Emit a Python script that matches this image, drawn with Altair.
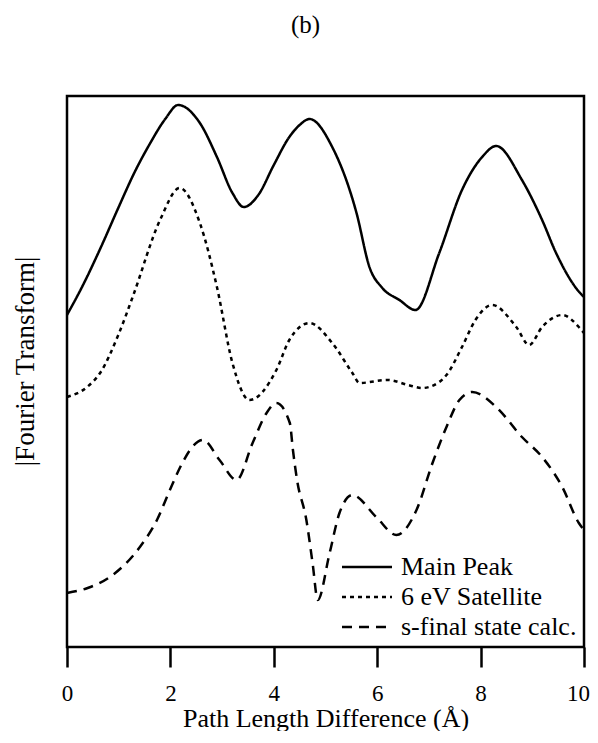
import altair as alt
import pandas as pd

series_names = ["Main Peak", "6 eV Satellite", "s-final state calc."]

main_x = [0.0, 0.31, 0.64, 1.0, 1.3, 1.6, 1.9, 2.15, 2.57, 2.9, 3.2, 3.42, 3.7, 4.0, 4.3, 4.5, 4.69,
          5.13, 5.6, 5.85, 6.1, 6.43, 6.74, 7.2, 7.64, 8.03, 8.3, 8.8, 9.19, 9.46, 9.96, 10.0]
main_y = [332, 362, 398, 440, 474, 503, 528, 542, 524, 490, 454, 440, 452, 482, 510, 522, 528,
          500, 434, 380, 359, 347, 337, 394, 457, 490, 501, 467, 427, 394, 352, 350]

sat_x = [0.0, 0.39, 0.64, 1.0, 1.27, 1.8, 2.18, 2.57, 2.9, 3.2, 3.53, 4.05, 4.3, 4.69, 5.13, 5.52,
         5.66, 6.2, 6.6, 6.87, 7.2, 7.34, 7.64, 7.9, 8.22, 8.69, 8.94, 9.19, 9.58, 9.9, 10.0]
sat_y = [250, 260, 274, 313, 350, 427, 459, 424, 360, 284, 247, 277, 307, 324, 304, 274,
         264, 267, 262, 259, 265, 272, 300, 327, 342, 320, 302, 320, 332, 320, 314]

calc_x = [0.0, 0.4, 0.83, 1.41, 1.74, 1.99, 2.24, 2.44, 2.63, 2.95, 3.28, 3.59, 3.86, 4.05,
          4.31, 4.37, 4.45, 4.63, 4.75, 4.85, 5.08, 5.27, 5.52, 5.98, 6.37, 6.76, 7.07, 7.34,
          7.59, 7.84, 8.3, 8.8, 9.19, 9.58, 9.9, 10.0]
calc_y = [54, 59, 70, 100, 127, 157, 185, 201, 207, 187, 167, 204, 234, 244,
          224, 197, 167, 127, 84, 47, 94, 134, 152, 130, 112, 137, 184, 220,
          247, 255, 240, 210, 190, 160, 124, 117]

rows = []
for name, xs, ys in zip(series_names, [main_x, sat_x, calc_x], [main_y, sat_y, calc_y]):
    for i, (xv, yv) in enumerate(zip(xs, ys)):
        rows.append({"series": name, "x": xv, "y": yv, "order": i})
df = pd.DataFrame(rows)

FONT = "Liberation Serif, 'Times New Roman', Times, serif"

chart = alt.Chart(df).mark_line(
    interpolate="monotone", strokeWidth=2.5, color="black"
).encode(
    x=alt.X("x:Q",
            scale=alt.Scale(domain=[0, 10], nice=False, zero=False),
            axis=alt.Axis(values=[0, 2, 4, 6, 8, 10], title="Path Length Difference (Å)",
                          grid=False, domain=False, ticks=True, tickSize=20, tickWidth=2.5,
                          tickColor="black", labelFont=FONT, labelFontSize=23, labelColor="black",
                          labelBaseline="alphabetic", labelPadding=33, labelFlush=False,
                          labelOffset=alt.ExprRef("datum.value == 10 ? -6 : 0"),
                          titleFont=FONT, titleFontSize=26, titleFontWeight="normal",
                          titleColor="black", titleBaseline="alphabetic", titleY=79)),
    y=alt.Y("y:Q",
            scale=alt.Scale(domain=[0, 551], nice=False, zero=False),
            axis=alt.Axis(title="|Fourier Transform|", labels=False, ticks=False, domain=False,
                          grid=False, titleFont=FONT, titleFontSize=27, titleFontWeight="normal",
                          titleColor="black", titleBaseline="alphabetic", titleX=-34, titleY=265,
                          titleAngle=270)),
    strokeDash=alt.StrokeDash("series:N",
                              scale=alt.Scale(domain=series_names, range=[[1, 0], [4, 4], [10, 7]]),
                              sort=series_names,
                              legend=alt.Legend(title=None, orient="none", legendX=287, legendY=458,
                                                symbolType="M-2.5,0H2.5", symbolSize=400,
                                                symbolStrokeWidth=2.5, symbolStrokeColor="black",
                                                symbolFillColor="transparent",
                                                labelFont=FONT, labelFontSize=26, labelColor="black",
                                                labelLimit=400, labelOffset=21, rowPadding=4,
                                                padding=0)),
    order="order:Q",
).properties(
    width=517, height=551,
    title=alt.TitleParams("(b)", font=FONT, fontSize=25, fontWeight="normal", color="black",
                          anchor="middle", dx=-20, offset=38, baseline="alphabetic"),
    autosize=alt.AutoSizeParams(type="none"),
    padding={"left": 59, "top": 88, "right": 6, "bottom": 84},
    background="white",
).configure_view(
    stroke="black", strokeWidth=2.5
)

chart.save("out.html", embed_options={"renderer": "svg", "actions": False})
